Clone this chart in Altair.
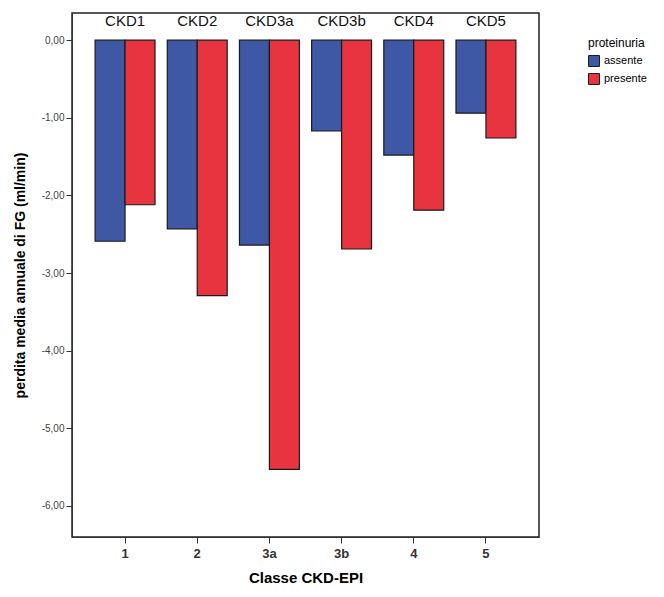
import altair as alt
import pandas as pd

classes = ["1", "2", "3a", "3b", "4", "5"]
group_labels = ["CKD1", "CKD2", "CKD3a", "CKD3b", "CKD4", "CKD5"]
assente = [-2.59, -2.43, -2.64, -1.17, -1.48, -0.94]
presente = [-2.12, -3.29, -5.53, -2.69, -2.19, -1.26]
series = ["assente", "presente"]
colors = ["#3F58A6", "#E8343E"]
y_ticks = [0, -1, -2, -3, -4, -5, -6]

rows = []
for c, a, p in zip(classes, assente, presente):
    rows.append({"classe": c, "proteinuria": "assente", "valore": a})
    rows.append({"classe": c, "proteinuria": "presente", "valore": p})
df = pd.DataFrame(rows)
lab = pd.DataFrame({"classe": classes, "label": group_labels})

W, H = 467, 524
xs = alt.Scale(domain=classes, paddingInner=0.17, paddingOuter=0.32)
ys = alt.Scale(domain=[-6.4, 0.35], nice=False, zero=False)

bars = alt.Chart(df).mark_bar(stroke="#1a1a1a", strokeWidth=1.2).encode(
    x=alt.X("classe:N", scale=xs, sort=classes,
            axis=alt.Axis(title="Classe CKD-EPI", labelAngle=0, labelFontSize=13,
                          labelFontWeight="bold", labelColor="#333333",
                          titleFontSize=15, titleFontWeight="bold", titlePadding=10,
                          tickSize=6, tickColor="#333333", domainColor="#333333",
                          labelPadding=4, labelFont="Liberation Sans",
                          titleFont="Liberation Sans")),
    xOffset=alt.XOffset("proteinuria:N", sort=series),
    y=alt.Y("valore:Q", scale=ys,
            axis=alt.Axis(title="perdita media annuale di FG (ml/min)", values=y_ticks,
                          labelExpr="(datum.value < 0 ? '-' : '') + format(abs(datum.value), '.0f') + ',00'",
                          labelFontSize=10, labelColor="#444444", tickSize=6,
                          tickColor="#333333", domainColor="#333333", grid=False,
                          titleFontSize=14, titleFontWeight="bold", titlePadding=14,
                          labelFont="Liberation Sans", titleFont="Liberation Sans")),
    y2=alt.datum(0),
    color=alt.Color("proteinuria:N", sort=series,
                    scale=alt.Scale(domain=series, range=colors),
                    legend=alt.Legend(title="proteinuria", symbolType="square",
                                      symbolStrokeColor="#1a1a1a", symbolStrokeWidth=1,
                                      symbolSize=120, titleFontSize=12,
                                      titleFontWeight="normal", labelFontSize=11,
                                      rowPadding=2, orient="none", legendX=516, legendY=25,
                                      titleFont="Liberation Sans", labelFont="Liberation Sans")),
)

texts = alt.Chart(lab).mark_text(fontSize=15, baseline="top", dy=-26, font="Liberation Sans",
                                 color="#111111").encode(
    x=alt.X("classe:N", scale=xs, sort=classes),
    y=alt.datum(0, scale=ys),
    text="label:N",
)

chart = alt.layer(bars, texts).properties(
    width=W, height=H, background="white"
).configure_view(stroke="#222222", strokeWidth=1.5)

chart.save("out.html", embed_options={"renderer": "svg", "actions": False})
